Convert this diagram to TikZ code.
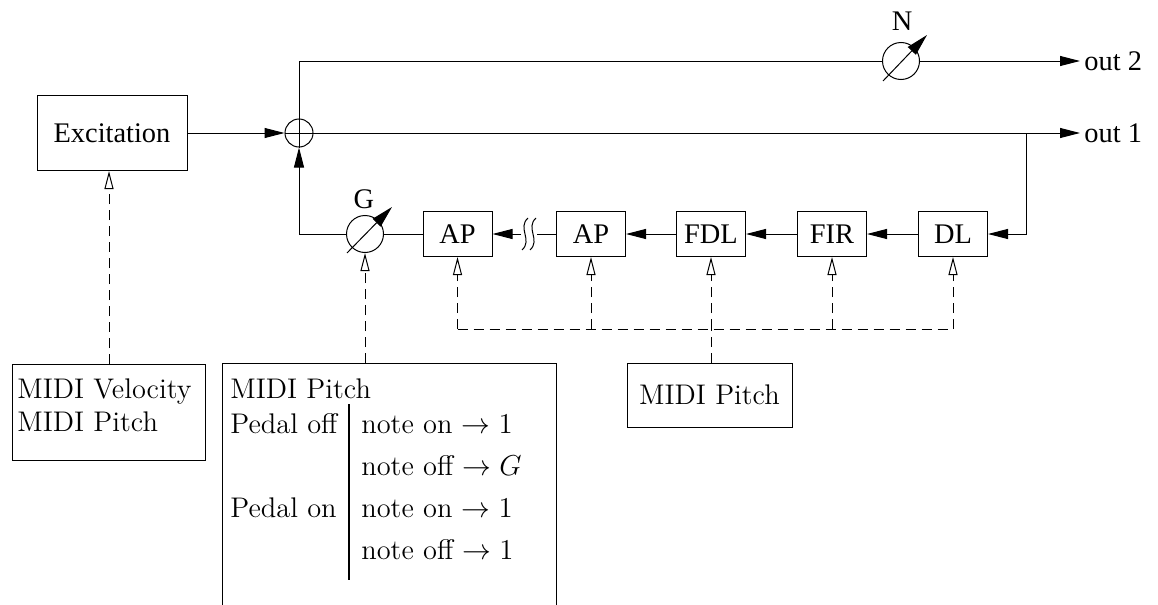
\documentclass[tikz,border=0pt]{standalone}
\usepackage{fontspec}
\newfontfamily\blockfont{Liberation Serif}
\usetikzlibrary{arrows.meta, positioning, calc}

\newcommand\picsize{\fontsize{14.2}{17}\selectfont}
\tikzset{
  wire/.style={line width=0.5pt},
  sig/.style={wire, -{Triangle[length=10pt,width=5pt]}},
  knob/.style={wire, -{Triangle[length=11pt,width=5.5pt]}},
  bus/.style={wire, dash pattern=on 5pt off 3pt},
  ctrl/.style={bus, -{Triangle[open,length=9pt,width=4.5pt]}},
  block/.style={draw, wire, minimum width=34.5pt, minimum height=22.5pt,
                inner sep=0pt, font=\blockfont\picsize},
  gain/.style={draw, wire, circle, minimum size=18.5pt, inner sep=0pt},
  sumnode/.style={draw, wire, circle, minimum size=14pt, inner sep=0pt},
  infobox/.style={draw, wire, inner sep=0pt},
  tag/.style={font=\blockfont\picsize, inner sep=2pt}
}

\begin{document}
\begin{tikzpicture}[x=0.5pt, y=-0.5pt, font=\picsize]
  \useasboundingbox (0,0) rectangle (1158,605);
  \coordinate (floor) at (0,605);
  \coordinate (bus) at (0,329);

  % signal path
  \node[block, minimum width=75pt, minimum height=37.5pt] (exc) at (112,133) {Excitation};
  \node[sumnode] (sum) at (299,133) {};
  \draw[wire] (sum.north) -- (sum.south) (sum.west) -- (sum.east);
  \node[gain] (n) at (901,61) {};
  \node[tag] (nlabel) at (902,21) {N};
  \node[tag, anchor=west] (out2) at (1080,61) {out 2};
  \node[tag, anchor=west] (out1) at (1080,133) {out 1};
  \coordinate (tap) at (1026,133);

  \node[block] (dl)  at (953,234) {DL};
  \node[block] (fir) at (832,234) {FIR};
  \node[block] (fdl) at (711,234) {FDL};
  \node[block] (ap2) at (591,234) {AP};
  \node[block] (ap1) at (457.5,234) {AP};
  \coordinate (brk) at (529,234);
  \node[gain] (g) at (365,234) {};
  \node[tag] (glabel) at (364,199) {G};

  \draw[sig] (exc) -- (sum.west);
  \draw[sig] (sum.east) -- (out1.west);
  \draw[wire] (sum.north) |- (n.west);
  \draw[sig] (n.east) -- (out2.west);
  \draw[sig] (tap) |- (dl.east);
  \draw[sig] (dl) -- (fir);
  \draw[sig] (fir) -- (fdl);
  \draw[sig] (fdl) -- (ap2);
  \draw[wire] (ap2.west) -- ([shift={(8,0)}]brk);
  \foreach \dx in {-4,4}
    \draw[wire] ([shift={(\dx+3,-16)}]brk) .. controls ([shift={(\dx-8,-6)}]brk)
      and ([shift={(\dx+8,6)}]brk) .. ([shift={(\dx-3,16)}]brk);
  \draw[sig] ([shift={(-8,0)}]brk) -- (ap1.east);
  \draw[wire] (ap1) -- (g);
  \draw[sig] (g.west) -| (sum.south);

  % variable gains
  \draw[knob] ([shift={(-18,19)}]g.center) -- ([shift={(27,-27)}]g.center);
  \draw[knob] ([shift={(-18,20)}]n.center) -- ([shift={(26,-26)}]n.center);

  % MIDI control
  \node[infobox, minimum width=96.5pt, minimum height=48pt, anchor=north west] (vel) at (12,364) {};
  \node[anchor=north west, align=left, inner sep=0pt,
        font=\fontsize{14.2}{16.5}\selectfont] (veltext) at (17,378) {MIDI Velocity\\MIDI Pitch};
  \draw[ctrl] (vel.north) -- (vel.north |- exc.south);

  \coordinate (pg-nw) at (222,363);
  \coordinate (pg-ne) at (556,363);
  \draw[wire] (pg-nw |- floor) -- (pg-nw) -- (pg-ne) -- (pg-ne |- floor);
  \node[anchor=north west, inner xsep=4pt, inner ysep=2.8pt] (pitchg) at (pg-nw) {%
    \renewcommand\arraystretch{1.235}\setlength\arrayrulewidth{1pt}%
    \begin{tabular}{@{}l|l@{}}
      \multicolumn{2}{@{}l@{}}{MIDI Pitch}\\[-3.5pt]
      Pedal off & note on $\rightarrow 1$\\
                & note off $\rightarrow G$\\
      Pedal on  & note on $\rightarrow 1$\\
                & note off $\rightarrow 1$\\[4pt]
    \end{tabular}};
  \draw[ctrl] (g.south |- pg-nw) -- (g.south);

  \node[infobox, minimum width=82.5pt, minimum height=32pt] (midip) at (709.5,395) {MIDI Pitch};
  \draw[bus] (ap1.south |- bus) -- (dl.south |- bus);
  \draw[bus] (fdl.south |- midip.north) -- (fdl.south |- bus);
  \foreach \b in {ap1, ap2, fdl, fir, dl}
    \draw[ctrl] (\b.south |- bus) -- (\b.south);
\end{tikzpicture}
\end{document}
